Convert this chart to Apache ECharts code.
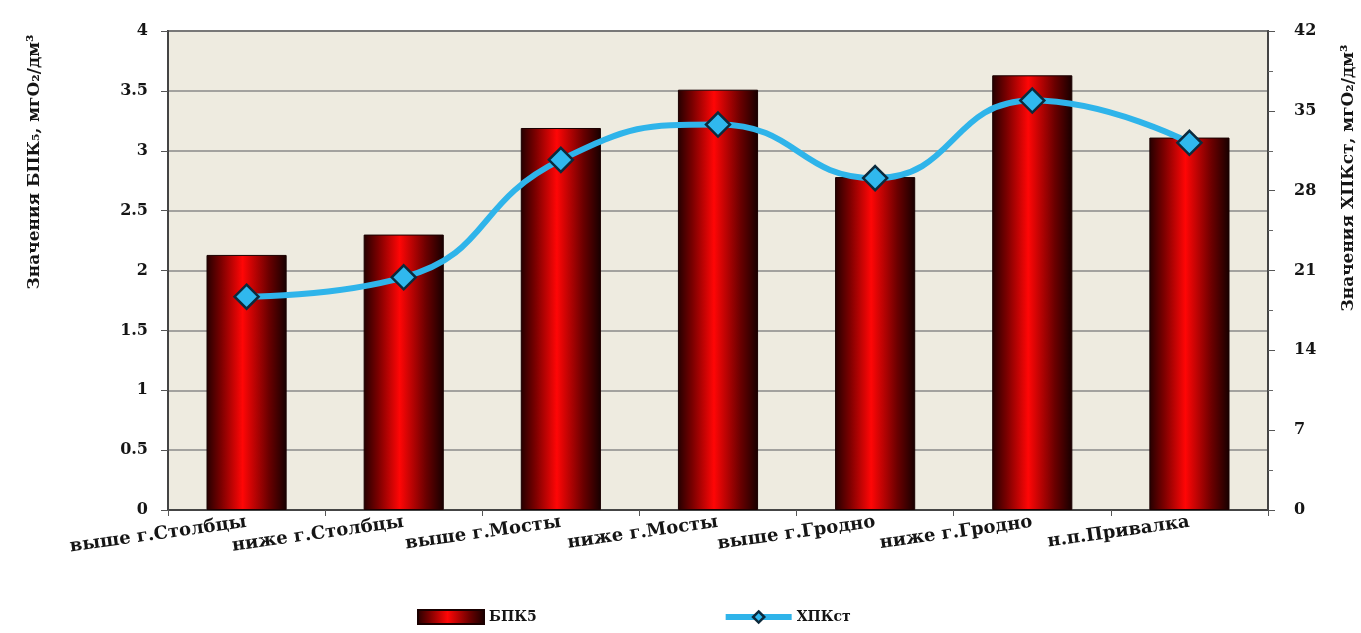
<!DOCTYPE html>
<html>
<head>
<meta charset="utf-8">
<script src="https://cdn.jsdelivr.net/npm/echarts@6/dist/echarts.min.js"></script>
<style>
  html, body { margin: 0; padding: 0; background: #ffffff; }
  #chart { width: 1361px; height: 633px; }
</style>
</head>
<body>
<div id="chart"></div>
<script>
// Monitoring points along the river
const categories = ['выше г.Столбцы', 'ниже г.Столбцы', 'выше г.Мосты', 'ниже г.Мосты',
                    'выше г.Гродно', 'ниже г.Гродно', 'н.п.Привалка'];
// BOD5, mgO2/dm3 (left axis)
const bpk5 = [2.13, 2.30, 3.19, 3.51, 2.78, 3.63, 3.11];
// COD (dichromate), mgO2/dm3 (right axis)
const hpk = [18.7, 20.4, 30.7, 33.8, 29.1, 35.9, 32.2];
// axis ranges
const leftAxis = { min: 0, max: 4, step: 0.5 };
const rightAxis = { min: 0, max: 42, step: 7 };

const serif = '"DejaVu Serif", "Liberation Serif", serif';
const labelStyle = { fontFamily: serif, fontWeight: 'bold', fontSize: 16, color: '#151515' };

const barFill = new echarts.graphic.LinearGradient(0, 0, 1, 0, [
  { offset: 0, color: '#240000' },
  { offset: 0.18, color: '#7a0000' },
  { offset: 0.45, color: '#ff0606' },
  { offset: 0.78, color: '#6a0000' },
  { offset: 1, color: '#160000' }
]);

const lineBlue = '#2FB4EA';

const chart = echarts.init(document.getElementById('chart'), null, { renderer: 'canvas' });
chart.setOption({
  animation: false,
  backgroundColor: '#ffffff',
  grid: {
    left: 168, right: 93, top: 31, bottom: 123,
    show: true, backgroundColor: '#EEEBE0', borderColor: '#444', borderWidth: 2
  },
  legend: {
    bottom: 3, left: 412, itemGap: 186, itemWidth: 66, itemHeight: 14,
    textStyle: { fontFamily: serif, fontWeight: 'bold', fontSize: 14, color: '#151515' },
    data: [
      { name: 'БПК5', icon: 'rect' },
      {
        name: 'ХПКст',
        lineStyle: { color: lineBlue, width: 6 },
        itemStyle: { color: '#30B8EE', borderColor: '#0c2a3c', borderWidth: 2.5 }
      }
    ]
  },
  xAxis: {
    type: 'category',
    data: categories,
    boundaryGap: true,
    axisLine: { lineStyle: { color: '#444', width: 2 } },
    axisTick: { show: true, length: 6, lineStyle: { color: '#555' } },
    axisLabel: Object.assign({}, labelStyle, { rotate: 8, margin: 12, interval: 0, fontSize: 18 })
  },
  yAxis: [
    {
      type: 'value', min: leftAxis.min, max: leftAxis.max, interval: leftAxis.step,
      axisLine: { show: true, lineStyle: { color: '#444', width: 2 } },
      axisTick: { show: true, length: 7, lineStyle: { color: '#555' } },
      axisLabel: Object.assign({ margin: 20 }, labelStyle),
      splitLine: { show: true, lineStyle: { color: '#8a8a8a', width: 1.5 } }
    },
    {
      type: 'value', min: rightAxis.min, max: rightAxis.max, interval: rightAxis.step,
      position: 'right',
      axisLine: { show: true, lineStyle: { color: '#444', width: 2 } },
      axisTick: { show: true, length: 7, lineStyle: { color: '#555' } },
      minorTick: { show: true, splitNumber: 2, length: 5, lineStyle: { color: '#666' } },
      axisLabel: Object.assign({ margin: 26 }, labelStyle),
      splitLine: { show: false }
    }
  ],
  graphic: [
    {
      type: 'text', x: 35, y: 162, rotation: Math.PI / 2,
      style: {
        text: 'Значения БПК₅, мгO₂/дм³', align: 'center', verticalAlign: 'middle',
        fontFamily: serif, fontWeight: 'bold', fontSize: 17, fill: '#151515'
      }
    },
    {
      type: 'text', x: 1349, y: 178, rotation: Math.PI / 2,
      style: {
        text: 'Значения ХПКст, мгO₂/дм³', align: 'center', verticalAlign: 'middle',
        fontFamily: serif, fontWeight: 'bold', fontSize: 17, fill: '#151515'
      }
    }
  ],
  series: [
    {
      name: 'БПК5', type: 'bar', yAxisIndex: 0, data: bpk5,
      barWidth: '51%',
      itemStyle: { color: barFill, borderColor: '#1a0000', borderWidth: 1 }
    },
    {
      name: 'ХПКст', type: 'line', yAxisIndex: 1, data: hpk,
      smooth: 0.5,
      lineStyle: { color: lineBlue, width: 6 },
      symbol: 'diamond', symbolSize: 24,
      itemStyle: { color: '#30B8EE', borderColor: '#0c2a3c', borderWidth: 2.5 },
      z: 5
    }
  ]
});
</script>
</body>
</html>
